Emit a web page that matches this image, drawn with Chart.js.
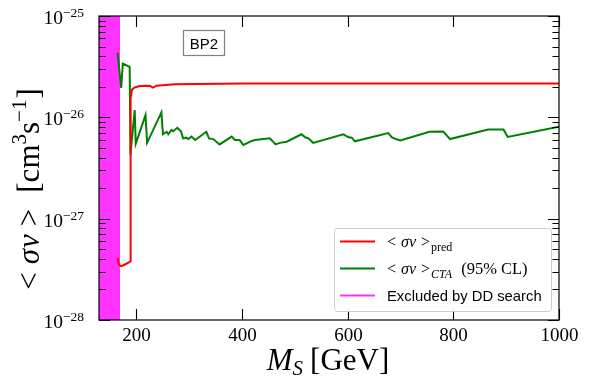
<!DOCTYPE html>
<html>
<head>
<meta charset="utf-8">
<script src="https://cdn.jsdelivr.net/npm/chart.js@4.4.1/dist/chart.umd.min.js"></script>
<style>
	html, body { margin: 0; padding: 0; background: #fff; }
</style>
</head>
<body>
<canvas id="chart" width="589" height="389"></canvas>
<script>
// ================ data ================
const massPred = [165, 168, 172, 180, 188.5, 189.3, 189.8, 192.5, 197.5, 207, 226, 232, 239, 273, 405, 1000];
const sigmaPred = [4.1e-28, 3.5e-28, 3.4e-28, 3.55e-28, 3.75e-28, 3.8e-28, 1.55e-26, 1.88e-26, 1.97e-26, 2.04e-26, 2.05e-26, 1.96e-26, 2.05e-26, 2.12e-26, 2.16e-26, 2.16e-26];

const massCTA = [165, 172, 175, 188, 189.5, 197.5, 199.5, 218, 221, 248, 251, 258, 261, 267, 270, 278, 285, 289, 295, 299, 305, 312, 333, 338, 346, 358, 381, 387, 396, 403, 419, 425, 453, 464, 472, 485, 513, 520, 526, 535, 592, 602, 608, 614, 677, 684, 693, 700, 755, 781, 794, 866, 895, 903, 1000];
const sigmaCTA = [4.35e-26, 1.95e-26, 3.4e-26, 3.15e-26, 4.3e-27, 1.18e-26, 5.5e-27, 1.05e-26, 5.6e-27, 1.12e-26, 6.8e-27, 7.2e-27, 6.8e-27, 7.5e-27, 7.3e-27, 7.9e-27, 7.3e-27, 6.2e-27, 6.3e-27, 6.1e-27, 6.45e-27, 5.97e-27, 7.2e-27, 6.2e-27, 6.1e-27, 5.4e-27, 6.45e-27, 5.97e-27, 5.97e-27, 5.33e-27, 5.85e-27, 5.97e-27, 6.2e-27, 5.4e-27, 5.6e-27, 5.74e-27, 6.8e-27, 6.35e-27, 6.2e-27, 5.6e-27, 6.8e-27, 6.35e-27, 6.3e-27, 5.8e-27, 7.0e-27, 6.35e-27, 6.07e-27, 5.9e-27, 7.2e-27, 7.25e-27, 6.1e-27, 7.6e-27, 7.6e-27, 6.4e-27, 8.1e-27];

// excluded by direct detection
const massExcluded = [130, 170];
const sigmaExcluded = [1e-25, 1e-25];

const xTicks = [200, 400, 600, 800, 1000];
const yTickExp = [-28, -27, -26, -25];

const X_MIN = 130, X_MAX = 1000;
const Y_MIN = 1e-28, Y_MAX = 1e-25;

const RED = "rgb(255, 0, 0)";
const GREEN = "rgb(0, 128, 0)";
const MAGENTA = "rgba(255, 0, 255, 0.8)";

const SERIF = "'Liberation Serif', serif";
const SANS = "'Liberation Sans', sans-serif";

function toPoints(xs, ys) {
	return xs.map((x, i) => ({ x: x, y: ys[i] }));
}

// ================ text helpers ================
// runs: [{t, f, dy, sp}]
function runsWidth(ctx, runs) {
	let w = 0;
	for (const r of runs) {
		ctx.font = r.f;
		w += ctx.measureText(r.t).width + (r.sp || 0);
	}
	return w;
}
function drawRuns(ctx, x, y, runs) {
	for (const r of runs) {
		ctx.font = r.f;
		ctx.fillText(r.t, x, y + (r.dy || 0));
		x += ctx.measureText(r.t).width + (r.sp || 0);
	}
	return x;
}

// ================ decorations plugin ================
const decorations = {
	id: "decorations",
	afterDraw(chart) {
		const ctx = chart.ctx;
		const a = chart.chartArea;
		const xs = chart.scales.x;
		const ys = chart.scales.y;
		ctx.save();
		ctx.fillStyle = "#000";
		ctx.strokeStyle = "#000";
		ctx.textBaseline = "alphabetic";

		// frame
		ctx.lineWidth = 1.2;
		ctx.strokeRect(a.left, a.top, a.right - a.left, a.bottom - a.top);

		// x ticks, inward on top and bottom
		ctx.lineWidth = 1.1;
		ctx.textAlign = "center";
		ctx.font = "19px " + SERIF;
		for (const v of xTicks) {
			const px = Math.round(xs.getPixelForValue(v)) + 0.5;
			ctx.beginPath();
			ctx.moveTo(px, a.bottom); ctx.lineTo(px, a.bottom - 11);
			ctx.moveTo(px, a.top); ctx.lineTo(px, a.top + 11);
			ctx.stroke();
			ctx.fillText(String(v), px, a.bottom + 21);
		}

		// y ticks, majors and minors on left and right
		for (const e of yTickExp) {
			const py = Math.round(ys.getPixelForValue(Math.pow(10, e))) + 0.5;
			ctx.beginPath();
			ctx.moveTo(a.left, py); ctx.lineTo(a.left + 11, py);
			ctx.moveTo(a.right, py); ctx.lineTo(a.right - 11, py);
			ctx.stroke();
			if (e < -25) {
				for (let k = 2; k <= 9; k++) {
					const pm = Math.round(ys.getPixelForValue(k * Math.pow(10, e))) + 0.5;
					ctx.beginPath();
					ctx.moveTo(a.left, pm); ctx.lineTo(a.left + 6.5, pm);
					ctx.moveTo(a.right, pm); ctx.lineTo(a.right - 6.5, pm);
					ctx.stroke();
				}
			}
			// label 10^e
			ctx.textAlign = "left";
			const runs = [
				{ t: "10", f: "19.5px " + SERIF, dy: 7.5 },
				{ t: "\u2212" + String(-e), f: "13.5px " + SERIF, dy: 0 },
			];
			const w = runsWidth(ctx, runs);
			drawRuns(ctx, 84 - w, py, runs);
		}

		// axis titles
		ctx.textAlign = "left";
		const xTitle = [
			{ t: "M", f: "italic 31px " + SERIF, sp: 0 },
			{ t: "S", f: "italic 21px " + SERIF, dy: 5, sp: 7 },
			{ t: "[GeV]", f: "31px " + SERIF },
		];
		const xw = runsWidth(ctx, xTitle);
		drawRuns(ctx, 328 - xw / 2, 370, xTitle);

		ctx.save();
		ctx.translate(39, 189);
		ctx.rotate(-Math.PI / 2);
		const yTitle = [
			{ t: "<", f: "31px " + SERIF, sp: 8 },
			{ t: "\u03c3", f: "italic 31px " + SERIF, sp: 1 },
			{ t: "v", f: "italic 31px " + SERIF, sp: 8 },
			{ t: ">", f: "31px " + SERIF, sp: 16 },
			{ t: "[cm", f: "31px " + SERIF, sp: 0 },
			{ t: "3", f: "21px " + SERIF, dy: -13, sp: 0 },
			{ t: "s", f: "31px " + SERIF, sp: 0 },
			{ t: "\u22121", f: "21px " + SERIF, dy: -13, sp: 1 },
			{ t: "]", f: "31px " + SERIF },
		];
		const yw = runsWidth(ctx, yTitle);
		drawRuns(ctx, -yw / 2, 0, yTitle);
		ctx.restore();

		// BP2 label box
		ctx.lineWidth = 1.2;
		ctx.strokeStyle = "#808080";
		ctx.strokeRect(183.5, 30.5, 41, 25);
		ctx.textAlign = "center";
		ctx.font = "15px " + SANS;
		ctx.fillStyle = "#000";
		ctx.fillText("BP2", 204, 48.5);

		// legend box
		const lx = 334, ly = 228, lw = 217, lh = 83;
		ctx.beginPath();
		ctx.roundRect(lx + 0.5, ly + 0.5, lw, lh, 3);
		ctx.fillStyle = "rgba(255,255,255,0.85)";
		ctx.fill();
		ctx.strokeStyle = "#cccccc";
		ctx.lineWidth = 1;
		ctx.stroke();

		const rows = [
			{ color: RED, y: 241.5, runs: [
				{ t: "<", f: "16px " + SERIF, sp: 5 },
				{ t: "\u03c3v", f: "italic 16px " + SERIF, sp: 5 },
				{ t: ">", f: "16px " + SERIF, sp: 1 },
				{ t: "pred", f: "12px " + SERIF, dy: 4 },
			] },
			{ color: GREEN, y: 268.5, runs: [
				{ t: "<", f: "16px " + SERIF, sp: 5 },
				{ t: "\u03c3v", f: "italic 16px " + SERIF, sp: 5 },
				{ t: ">", f: "16px " + SERIF, sp: 1 },
				{ t: "CTA", f: "italic 12px " + SERIF, dy: 4, sp: 9 },
				{ t: "(95% CL)", f: "16.5px " + SERIF },
			] },
			{ color: MAGENTA, y: 295.5, runs: [
				{ t: "Excluded by DD search", f: "14.8px " + SANS },
			] },
		];
		ctx.textAlign = "left";
		for (const r of rows) {
			ctx.strokeStyle = r.color;
			ctx.lineWidth = 2;
			ctx.beginPath();
			ctx.moveTo(340, r.y); ctx.lineTo(375, r.y);
			ctx.stroke();
			ctx.fillStyle = "#000";
			drawRuns(ctx, 387, r.y + 5.5, r.runs);
		}

		ctx.restore();
	},
};

// ================ chart ================
const ctxChart = document.getElementById("chart");
const chart = new Chart(ctxChart, {
	type: "line",
	data: {
		datasets: [
			{
				label: "pred",
				data: toPoints(massPred, sigmaPred),
				borderColor: RED,
				borderWidth: 2,
				pointRadius: 0,
				fill: false,
				tension: 0,
				order: 1,
			},
			{
				label: "CTA",
				data: toPoints(massCTA, sigmaCTA),
				borderColor: GREEN,
				borderWidth: 2,
				pointRadius: 0,
				fill: false,
				tension: 0,
				order: 2,
			},
			{
				label: "Excluded by DD search",
				data: toPoints(massExcluded, sigmaExcluded),
				borderWidth: 0,
				borderColor: "rgba(0,0,0,0)",
				backgroundColor: MAGENTA,
				pointRadius: 0,
				fill: "start",
				order: 3,
			},
		],
	},
	options: {
		responsive: false,
		devicePixelRatio: 1,
		animation: false,
		layout: {
			padding: { left: 0, right: 30, top: 16, bottom: 0 },
		},
		plugins: {
			legend: { display: false },
			tooltip: { enabled: false },
		},
		scales: {
			x: {
				type: "linear",
				min: X_MIN,
				max: X_MAX,
				grid: { display: false, drawTicks: false },
				border: { display: false },
				ticks: { display: false },
				afterFit(scale) { scale.height = 69; },
			},
			y: {
				type: "logarithmic",
				min: Y_MIN,
				max: Y_MAX,
				grid: { display: false, drawTicks: false },
				border: { display: false },
				ticks: { display: false },
				afterFit(scale) { scale.width = 99; },
			},
		},
	},
	plugins: [decorations],
});
</script>
</body>
</html>
